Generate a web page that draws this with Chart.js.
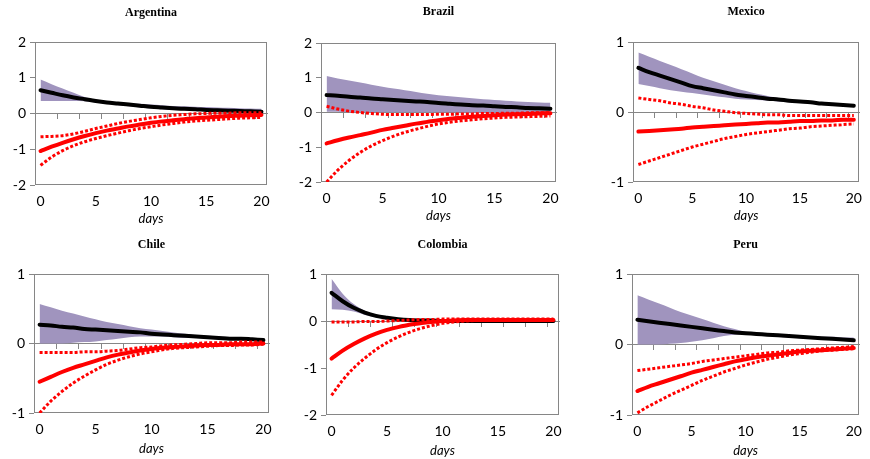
<!DOCTYPE html>
<html><head><meta charset="utf-8">
<script src="https://cdn.jsdelivr.net/npm/chart.js@4.4.0/dist/chart.umd.min.js"></script>
<style>
html,body{margin:0;padding:0;background:#fff;}
#wrap{position:relative;width:870px;height:459px;overflow:hidden;background:#fff;}
#wrap canvas{position:absolute;}
</style></head><body><div id="wrap"></div>
<script>
// ---------- data ----------
const days = [0,1,2,3,4,5,6,7,8,9,10,11,12,13,14,15,16,17,18,19,20];
const xTickLabels = [0,5,10,15,20];
const zeroLineTicks = [1.5,3.5,5.5,7.5,9.5,11.5,13.5,15.5,17.5,19.5];
const countries = ['Argentina','Brazil','Mexico','Chile','Colombia','Peru'];

const yTicksArgentina = [-2,-1,0,1,2];
const yTicksBrazil = [-2,-1,0,1,2];
const yTicksMexico = [-1,0,1];
const yTicksChile = [-1,0,1];
const yTicksColombia = [-2,-1,0,1];
const yTicksPeru = [-1,0,1];

// Argentina
const argentinaResponse = [0.65,0.58,0.51,0.45,0.40,0.35,0.31,0.28,0.25,0.22,0.19,0.17,0.15,0.13,0.12,0.10,0.09,0.08,0.07,0.06,0.05];
const argentinaBandHigh = [0.95,0.82,0.70,0.58,0.46,0.38,0.34,0.31,0.29,0.27,0.25,0.23,0.21,0.20,0.19,0.18,0.17,0.16,0.15,0.14,0.13];
const argentinaBandLow  = [0.35,0.35,0.35,0.35,0.34,0.31,0.27,0.23,0.20,0.17,0.14,0.12,0.10,0.09,0.08,0.06,0.05,0.04,0.03,0.02,0.01];
const argentinaRed      = [-1.05,-0.93,-0.82,-0.72,-0.63,-0.55,-0.48,-0.42,-0.36,-0.31,-0.26,-0.22,-0.19,-0.16,-0.13,-0.11,-0.09,-0.07,-0.06,-0.05,-0.04];
const argentinaRedHigh  = [-0.65,-0.64,-0.62,-0.57,-0.50,-0.42,-0.35,-0.28,-0.22,-0.17,-0.12,-0.08,-0.05,-0.03,-0.01,0.00,0.01,0.01,0.02,0.02,0.02];
const argentinaRedLow   = [-1.45,-1.22,-1.04,-0.90,-0.79,-0.70,-0.62,-0.55,-0.48,-0.42,-0.37,-0.32,-0.28,-0.24,-0.21,-0.19,-0.17,-0.15,-0.13,-0.12,-0.11];

// Brazil
const brazilResponse = [0.50,0.48,0.45,0.43,0.40,0.38,0.36,0.34,0.32,0.30,0.27,0.25,0.23,0.21,0.20,0.18,0.16,0.15,0.13,0.12,0.11];
const brazilBandHigh = [1.05,0.98,0.92,0.86,0.80,0.74,0.69,0.64,0.59,0.54,0.50,0.47,0.44,0.41,0.38,0.36,0.34,0.32,0.30,0.29,0.28];
const brazilBandLow  = [0.02,0.02,0.01,0.01,0.01,0.01,0.01,0.01,0.01,0.01,0.01,0.01,0.01,0.00,0.00,0.00,0.00,0.00,0.00,0.00,0.00];
const brazilRed      = [-0.89,-0.80,-0.72,-0.65,-0.58,-0.50,-0.44,-0.38,-0.32,-0.27,-0.22,-0.18,-0.15,-0.12,-0.10,-0.08,-0.06,-0.05,-0.04,-0.03,-0.02];
const brazilRedHigh  = [0.18,0.10,0.04,0.00,-0.03,-0.05,-0.06,-0.06,-0.06,-0.06,-0.05,-0.05,-0.04,-0.04,-0.03,-0.03,-0.02,-0.02,-0.01,-0.01,0.00];
const brazilRedLow   = [-2.00,-1.66,-1.38,-1.15,-0.96,-0.81,-0.68,-0.57,-0.48,-0.40,-0.33,-0.28,-0.24,-0.21,-0.18,-0.16,-0.14,-0.13,-0.12,-0.11,-0.10];

// Mexico
const mexicoResponse = [0.63,0.57,0.52,0.47,0.42,0.37,0.34,0.31,0.28,0.25,0.23,0.21,0.19,0.18,0.16,0.15,0.14,0.12,0.11,0.10,0.09];
const mexicoBandHigh = [0.85,0.79,0.73,0.67,0.61,0.55,0.49,0.44,0.39,0.34,0.30,0.26,0.23,0.20,0.18,0.16,0.14,0.12,0.11,0.10,0.09];
const mexicoBandLow  = [0.40,0.37,0.34,0.31,0.29,0.27,0.25,0.23,0.21,0.19,0.18,0.17,0.16,0.15,0.14,0.13,0.12,0.11,0.10,0.09,0.08];
const mexicoRed      = [-0.28,-0.27,-0.26,-0.25,-0.24,-0.22,-0.21,-0.20,-0.19,-0.18,-0.17,-0.16,-0.15,-0.15,-0.14,-0.13,-0.13,-0.12,-0.12,-0.11,-0.11];
const mexicoRedHigh  = [0.20,0.18,0.16,0.13,0.11,0.08,0.06,0.03,0.01,-0.01,-0.02,-0.03,-0.04,-0.04,-0.05,-0.05,-0.05,-0.05,-0.05,-0.05,-0.05];
const mexicoRedLow   = [-0.75,-0.70,-0.65,-0.60,-0.55,-0.50,-0.46,-0.42,-0.38,-0.35,-0.32,-0.30,-0.28,-0.26,-0.24,-0.23,-0.21,-0.20,-0.19,-0.18,-0.17];

// Chile
const chileResponse = [0.27,0.26,0.24,0.23,0.21,0.20,0.19,0.18,0.17,0.16,0.14,0.13,0.12,0.11,0.10,0.09,0.08,0.07,0.07,0.06,0.05];
const chileBandHigh = [0.57,0.52,0.47,0.43,0.39,0.35,0.31,0.28,0.25,0.22,0.20,0.18,0.16,0.14,0.12,0.11,0.10,0.09,0.08,0.07,0.06];
const chileBandLow  = [0.00,0.00,0.00,0.01,0.02,0.03,0.05,0.07,0.09,0.10,0.10,0.10,0.09,0.08,0.08,0.07,0.06,0.05,0.05,0.04,0.04];
const chileRed      = [-0.55,-0.48,-0.41,-0.35,-0.30,-0.25,-0.20,-0.16,-0.13,-0.10,-0.08,-0.06,-0.05,-0.04,-0.03,-0.02,-0.02,-0.01,-0.01,-0.01,0.00];
const chileRedHigh  = [-0.13,-0.13,-0.13,-0.13,-0.12,-0.12,-0.11,-0.10,-0.08,-0.06,-0.05,-0.03,-0.02,-0.01,0.00,0.01,0.01,0.01,0.02,0.02,0.02];
const chileRedLow   = [-1.00,-0.83,-0.69,-0.57,-0.47,-0.38,-0.30,-0.24,-0.19,-0.15,-0.12,-0.09,-0.07,-0.06,-0.05,-0.04,-0.03,-0.03,-0.02,-0.02,-0.01];

// Colombia
const colombiaResponse = [0.60,0.42,0.28,0.18,0.11,0.07,0.04,0.02,0.01,0.01,0.00,0.00,0.00,0.00,0.00,0.00,0.00,0.00,0.00,0.00,0.00];
const colombiaBandHigh = [0.90,0.58,0.36,0.22,0.13,0.08,0.05,0.03,0.02,0.01,0.01,0.00,0.00,0.00,0.00,0.00,0.00,0.00,0.00,0.00,0.00];
const colombiaBandLow  = [0.25,0.24,0.20,0.13,0.08,0.04,0.02,0.01,0.00,0.00,0.00,0.00,0.00,0.00,0.00,0.00,0.00,0.00,0.00,0.00,0.00];
const colombiaRed      = [-0.80,-0.63,-0.49,-0.37,-0.27,-0.19,-0.13,-0.08,-0.05,-0.02,0.00,0.01,0.02,0.02,0.02,0.02,0.02,0.02,0.02,0.02,0.02];
const colombiaRedHigh  = [-0.02,-0.02,-0.02,-0.01,-0.01,0.00,0.01,0.02,0.03,0.03,0.04,0.04,0.04,0.04,0.04,0.04,0.04,0.04,0.04,0.04,0.04];
const colombiaRedLow   = [-1.58,-1.26,-1.00,-0.79,-0.61,-0.46,-0.34,-0.24,-0.16,-0.10,-0.05,-0.02,0.00,0.01,0.01,0.02,0.02,0.02,0.02,0.02,0.02];

// Peru
const peruResponse = [0.35,0.33,0.31,0.29,0.27,0.25,0.23,0.21,0.19,0.17,0.16,0.15,0.14,0.13,0.12,0.11,0.10,0.09,0.08,0.07,0.06];
const peruBandHigh = [0.70,0.64,0.58,0.52,0.46,0.41,0.36,0.31,0.26,0.22,0.18,0.16,0.15,0.14,0.13,0.12,0.12,0.11,0.11,0.10,0.10];
const peruBandLow  = [0.00,0.00,0.00,0.01,0.02,0.04,0.06,0.09,0.12,0.14,0.15,0.14,0.13,0.11,0.10,0.09,0.08,0.07,0.06,0.05,0.04];
const peruRed      = [-0.66,-0.60,-0.55,-0.50,-0.45,-0.40,-0.36,-0.32,-0.28,-0.24,-0.21,-0.18,-0.16,-0.14,-0.12,-0.10,-0.09,-0.08,-0.07,-0.06,-0.05];
const peruRedHigh  = [-0.37,-0.35,-0.33,-0.31,-0.29,-0.27,-0.24,-0.22,-0.20,-0.18,-0.16,-0.14,-0.12,-0.11,-0.09,-0.08,-0.07,-0.06,-0.05,-0.04,-0.03];
const peruRedLow   = [-0.97,-0.88,-0.80,-0.72,-0.65,-0.58,-0.51,-0.45,-0.39,-0.34,-0.29,-0.25,-0.21,-0.18,-0.15,-0.13,-0.11,-0.09,-0.08,-0.07,-0.06];

const series = {
  Argentina: [argentinaResponse, argentinaBandHigh, argentinaBandLow, argentinaRed, argentinaRedHigh, argentinaRedLow, yTicksArgentina],
  Brazil:    [brazilResponse, brazilBandHigh, brazilBandLow, brazilRed, brazilRedHigh, brazilRedLow, yTicksBrazil],
  Mexico:    [mexicoResponse, mexicoBandHigh, mexicoBandLow, mexicoRed, mexicoRedHigh, mexicoRedLow, yTicksMexico],
  Chile:     [chileResponse, chileBandHigh, chileBandLow, chileRed, chileRedHigh, chileRedLow, yTicksChile],
  Colombia:  [colombiaResponse, colombiaBandHigh, colombiaBandLow, colombiaRed, colombiaRedHigh, colombiaRedLow, yTicksColombia],
  Peru:      [peruResponse, peruBandHigh, peruBandLow, peruRed, peruRedHigh, peruRedLow, yTicksPeru]
};

// ---------- layout (pixels) ----------
const layouts = [
  {left:0,   top:0,   w:290, h:230, pl:35,  pr:267, pt:42,  pb:185, axisH:42, titleY:13},
  {left:290, top:0,   w:290, h:230, pl:321, pr:556, pt:43,  pb:182, axisH:42, titleY:12},
  {left:580, top:0,   w:290, h:230, pl:633, pr:867, pt:42,  pb:182, axisH:42, titleY:12},
  {left:0,   top:230, w:290, h:229, pl:34,  pr:269, pt:274, pb:413, axisH:44, titleY:245},
  {left:290, top:230, w:290, h:229, pl:326, pr:559, pt:274, pb:415, axisH:44, titleY:245},
  {left:580, top:230, w:290, h:229, pl:632, pr:866, pt:274, pb:415, axisH:44, titleY:245}
];
const AXIS_W = 25;
const GRAY = '#868686';
const PURPLE = 'rgba(160,148,190,1)';
const RED = '#FF0000';
const TICK_FONT = {family: 'Lato, "Open Sans", sans-serif', size: 14};

const wrap = document.getElementById('wrap');

function pts(arr) { return days.map((d, i) => ({x: d, y: arr[i]})); }

countries.forEach((name, i) => {
  const lay = layouts[i];
  const [resp, bHi, bLo, red, rHi, rLo, yTicks] = series[name];
  const c = document.createElement('canvas');
  c.width = lay.w; c.height = lay.h;
  c.style.left = lay.left + 'px'; c.style.top = lay.top + 'px';
  c.style.width = lay.w + 'px'; c.style.height = lay.h + 'px';
  wrap.appendChild(c);

  const pad = {
    left: lay.pl - lay.left - AXIS_W,
    right: lay.left + lay.w - lay.pr,
    top: lay.pt - lay.top,
    bottom: lay.top + lay.h - lay.pb - lay.axisH
  };

  const framePlugin = {
    id: 'frame' + i,
    beforeDatasetsDraw(chart) {
      const a = chart.chartArea, ctx = chart.ctx;
      ctx.save();
      ctx.strokeStyle = GRAY; ctx.lineWidth = 1;
      ctx.strokeRect(Math.round(a.left) + 0.5, Math.round(a.top) + 0.5,
                     Math.round(a.right - a.left) - 1, Math.round(a.bottom - a.top) - 1);
      ctx.restore();
    },
    afterDraw(chart) {
      const a = chart.chartArea, ctx = chart.ctx;
      ctx.save();
      ctx.fillStyle = '#000';
      ctx.font = 'bold 12px "Liberation Serif", "Times New Roman", serif';
      ctx.textAlign = 'center'; ctx.textBaseline = 'middle';
      ctx.fillText(name, (a.left + a.right) / 2, lay.titleY - lay.top);
      ctx.restore();
    }
  };

  const common = {pointRadius: 0, pointHoverRadius: 0, cubicInterpolationMode: 'monotone', fill: false};

  new Chart(c, {
    type: 'line',
    data: {
      datasets: [
        {...common, order: 6, data: pts(bHi), fill: '+1', backgroundColor: PURPLE, borderWidth: 0, borderColor: 'rgba(0,0,0,0)'},
        {...common, order: 7, data: pts(bLo), borderWidth: 0, borderColor: 'rgba(0,0,0,0)'},
        {...common, order: 3, data: pts(resp), borderColor: '#000', borderWidth: 4, borderCapStyle: 'round'},
        {...common, order: 2, data: pts(rHi), borderColor: RED, borderWidth: 3, borderDash: [3, 2]},
        {...common, order: 2, data: pts(rLo), borderColor: RED, borderWidth: 3, borderDash: [3, 2]},
        {...common, order: 1, data: pts(red), borderColor: RED, borderWidth: 4, borderCapStyle: 'round'}
      ]
    },
    options: {
      responsive: false,
      animation: false,
      devicePixelRatio: 1,
      layout: {padding: pad},
      plugins: {legend: {display: false}, tooltip: {enabled: false}, title: {display: false}},
      events: [],
      scales: {
        x: {
          type: 'linear', position: 'bottom', min: -0.5, max: 20.5,
          afterBuildTicks: s => { s.ticks = xTickLabels.map(v => ({value: v})); },
          afterFit: s => { s.height = lay.axisH; },
          grid: {display: false, drawTicks: false},
          border: {display: false},
          ticks: {font: TICK_FONT, color: '#000', padding: 8, maxRotation: 0, autoSkip: false},
          title: {display: true, text: 'days', color: '#000', padding: {top: 0, bottom: 0},
                  font: {family: 'Lato, "Open Sans", sans-serif', size: 13, style: 'italic'}}
        },
        x2: {
          type: 'linear', position: {y: 0}, axis: 'x', min: -0.5, max: 20.5,
          afterBuildTicks: s => { s.ticks = zeroLineTicks.map(v => ({value: v})); },
          grid: {display: true, drawOnChartArea: false, drawTicks: true, tickLength: 5, color: GRAY},
          border: {display: true, color: GRAY, width: 1},
          ticks: {display: false}
        },
        y: {
          type: 'linear', position: 'left', min: yTicks[0], max: yTicks[yTicks.length - 1],
          afterBuildTicks: s => { s.ticks = yTicks.map(v => ({value: v})); },
          afterFit: s => { s.width = AXIS_W; },
          grid: {display: true, drawOnChartArea: false, drawTicks: true, tickLength: 5, color: GRAY},
          border: {display: false},
          ticks: {font: TICK_FONT, color: '#000', padding: 4}
        }
      }
    },
    plugins: [framePlugin]
  });
});
</script>
</body></html>
